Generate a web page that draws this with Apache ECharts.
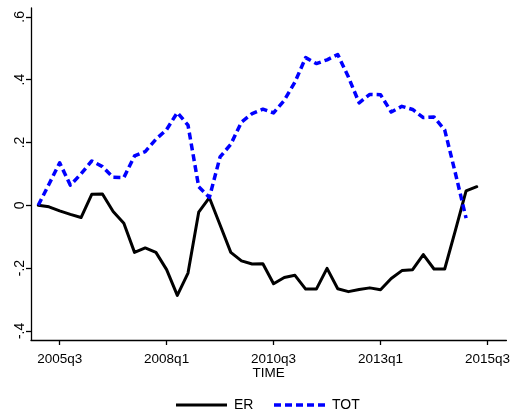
<!DOCTYPE html>
<html>
<head>
<meta charset="utf-8">
<style>
  html, body { margin: 0; padding: 0; background: #fff; }
  #chart { width: 513px; height: 415px; }
</style>
<script src="https://cdn.jsdelivr.net/npm/echarts@6/dist/echarts.min.js"></script>
</head>
<body>
<div id="chart"></div>
<script>
// Quarterly series, first observation 2005q1
const firstYear = 2005;
const firstQuarter = 1;

// Exchange rate (log change relative to 2005q1)
const erValues = [
  0.000, -0.005, -0.018, -0.029, -0.039, 0.035, 0.036, -0.020, -0.057, -0.150,
  -0.136, -0.150, -0.205, -0.287, -0.216, -0.022, 0.024, -0.063, -0.150, -0.177,
  -0.187, -0.186, -0.250, -0.230, -0.223, -0.267, -0.267, -0.201, -0.266, -0.275,
  -0.268, -0.263, -0.269, -0.233, -0.208, -0.205, -0.157, -0.203, -0.203, -0.080,
  0.046, 0.059
];

// Terms of trade (log change relative to 2005q1)
const totValues = [
  0.000, 0.067, 0.135, 0.064, 0.100, 0.141, 0.123, 0.089, 0.088, 0.157,
  0.171, 0.210, 0.241, 0.295, 0.255, 0.059, 0.025, 0.154, 0.194, 0.265,
  0.292, 0.306, 0.294, 0.334, 0.392, 0.470, 0.451, 0.463, 0.480, 0.408,
  0.326, 0.353, 0.352, 0.297, 0.315, 0.305, 0.279, 0.281, 0.240, 0.102,
  -0.041
];

// Axis ticks
const xTickLabels = ['2005q3', '2008q1', '2010q3', '2013q1', '2015q3'];
const yTickValues = [-0.4, -0.2, 0, 0.2, 0.4, 0.6];

// quarter label -> position on the time axis (0 = first observation)
function quarterIndex(label) {
  const y = parseInt(label.slice(0, 4), 10);
  const q = parseInt(label.slice(5), 10);
  return (y - firstYear) * 4 + (q - firstQuarter);
}
function quarterLabel(idx) {
  const total = (firstQuarter - 1) + idx;
  return (firstYear + Math.floor(total / 4)) + 'q' + (total % 4 + 1);
}
function toPairs(values) {
  return values.map((v, i) => [i, v]);
}
// Stata-like number format: .6, -.2, 0
function stataNum(v) {
  if (Math.abs(v) < 1e-9) return '0';
  const s = (Math.round(v * 10) / 10).toString();
  return s.replace(/^(-?)0\./, '$1.');
}

const xTickPos = xTickLabels.map(quarterIndex);
const labelByPos = {};
xTickLabels.forEach(l => { labelByPos[quarterIndex(l)] = l; });

const font = 'Liberation Sans, Arial, Helvetica, sans-serif';
const chart = echarts.init(document.getElementById('chart'), null, { renderer: 'canvas' });

// Legend keys drawn below the axis title
const legendY = 405;
const legendItems = [
  { name: 'ER', x: 176, color: '#000000', width: 3, dash: null },
  { name: 'TOT', x: 274, color: '#0000ff', width: 3.5, dash: [7, 4] }
];
const legendGraphics = [];
legendItems.forEach(it => {
  legendGraphics.push({
    type: 'line',
    shape: { x1: it.x, y1: legendY, x2: it.x + 51, y2: legendY },
    style: { stroke: it.color, lineWidth: it.width, lineDash: it.dash, lineCap: 'butt' },
    silent: true
  });
  legendGraphics.push({
    type: 'text',
    x: it.x + 58,
    y: legendY,
    style: { text: it.name, fill: '#000', font: '14px ' + font, textVerticalAlign: 'middle', verticalAlign: 'middle' },
    silent: true
  });
});

chart.setOption({
  animation: false,
  backgroundColor: '#ffffff',
  grid: { left: 31, right: 5, top: 8, bottom: 75, containLabel: false },
  xAxis: {
    type: 'value',
    min: -0.68,
    max: 43.77,
    name: 'TIME',
    nameLocation: 'middle',
    nameGap: 26,
    nameMoveOverlap: false,
    nameTextStyle: { color: '#000', fontSize: 13.5, fontFamily: font },
    splitLine: { show: false },
    axisLine: { show: true, onZero: false, lineStyle: { color: '#000', width: 1.3 } },
    axisTick: { show: true, length: 5, customValues: xTickPos, lineStyle: { color: '#000', width: 1.3 } },
    axisLabel: {
      customValues: xTickPos,
      margin: 12,
      color: '#000',
      fontSize: 13.5,
      fontFamily: font,
      formatter: v => labelByPos[Math.round(v)] || quarterLabel(Math.round(v))
    }
  },
  yAxis: {
    type: 'value',
    min: -0.429,
    max: 0.628,
    splitLine: { show: false },
    axisLine: { show: true, onZero: false, lineStyle: { color: '#000', width: 1.3 } },
    axisTick: { show: true, length: 5, customValues: yTickValues, lineStyle: { color: '#000', width: 1.3 } },
    axisLabel: {
      customValues: yTickValues,
      rotate: 90,
      margin: 4,
      color: '#000',
      fontSize: 14,
      fontFamily: font,
      formatter: v => stataNum(v)
    }
  },
  graphic: legendGraphics,
  series: [
    {
      name: 'ER',
      type: 'line',
      data: toPairs(erValues),
      symbol: 'none',
      lineStyle: { color: '#000000', width: 3, join: 'round', cap: 'round' },
      itemStyle: { color: '#000000' },
      z: 2
    },
    {
      name: 'TOT',
      type: 'line',
      data: toPairs(totValues),
      symbol: 'none',
      lineStyle: { color: '#0000ff', width: 3.5, type: [7, 4], join: 'round', cap: 'butt' },
      itemStyle: { color: '#0000ff' },
      z: 3
    }
  ]
});
</script>
</body>
</html>
